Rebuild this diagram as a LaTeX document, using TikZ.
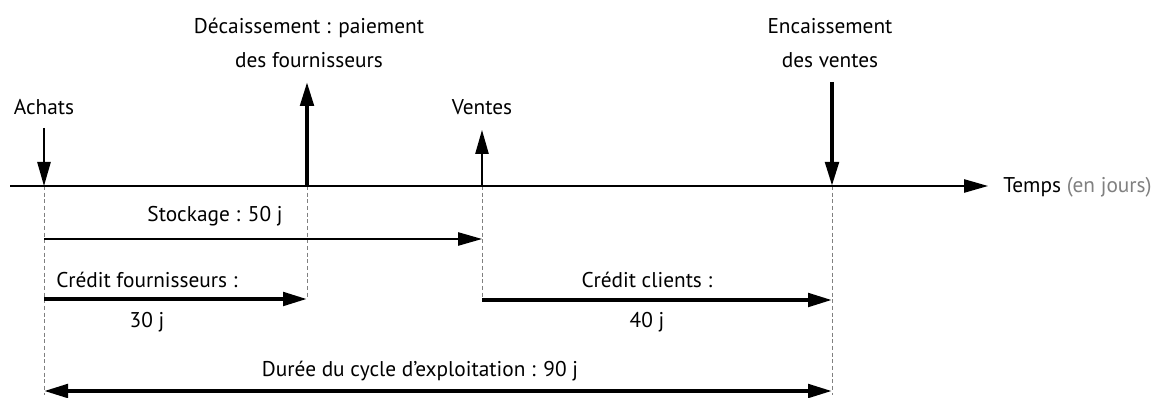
\documentclass[tikz,border=0pt]{standalone}
\usepackage{fontspec}
\setmainfont{PT Sans}
\usetikzlibrary{arrows.meta}
\begin{document}
\begin{tikzpicture}[x=0.75pt,y=-0.75pt,
  lbl/.style={font=\fontsize{16}{25}\selectfont, inner sep=0pt, align=center},
  thinarr/.style={line width=1.1pt, -{Triangle[length=18pt,width=10pt]}},
  thickarr/.style={line width=3pt, -{Triangle[length=18pt,width=10pt]}},
  guide/.style={line width=0.7pt, gray, dash pattern=on 3pt off 2pt},
  axis/.style={line width=1.1pt, -{Triangle[length=18pt,width=10pt]}}]
\useasboundingbox (0,0) rectangle (1172,398);
% coordinates
\coordinate (ax0) at (10,186);
\coordinate (axE) at (988,186);
\coordinate (A) at (44,186);
\coordinate (D) at (307,186);
\coordinate (V) at (482,186);
\coordinate (E) at (832,186);
\coordinate (Atop) at (44,128);
\coordinate (Dtop) at (307,82);
\coordinate (Vtop) at (482,130);
\coordinate (Etop) at (832,82);
\coordinate (Abot) at (44,395);
\coordinate (Dbot) at (307,299);
\coordinate (Vbot) at (482,300);
\coordinate (Ebot) at (832,395);
\coordinate (s0) at (44,239);
\coordinate (s1) at (482,239);
\coordinate (f0) at (44,299);
\coordinate (f1) at (307,299);
\coordinate (c0) at (482,300);
\coordinate (c1) at (832,300);
\coordinate (d0) at (44,391);
\coordinate (d1) at (832,391);
% labels
\node[lbl] (dec) at (309,43) {Décaissement : paiement\\des fournisseurs};
\node[lbl] (enc) at (830,43) {Encaissement\\des ventes};
\node[lbl] (achats) at (44,107) {Achats};
\node[lbl] (ventes) at (482,107) {Ventes};
\node[lbl,anchor=west] (temps) at (1003,187) {Temps \textcolor{gray}{(en jours)}};
\node[lbl] (stock) at (215,216) {Stockage : 50 j};
\node[lbl] (credf) at (147,280) {Crédit fournisseurs :};
\node[lbl] (credf2) at (147,322) {30 j};
\node[lbl] (credc) at (647,280) {Crédit clients :};
\node[lbl] (credc2) at (647,322) {40 j};
\node[lbl] (duree) at (420,371) {Durée du cycle d’exploitation : 90 j};
% guides
\draw[guide] (A) -- (Abot);
\draw[guide] (D) -- (Dbot);
\draw[guide] (V) -- (Vbot);
\draw[guide] (E) -- (Ebot);
% axis
\draw[axis] (ax0) -- (axE);
% event arrows
\draw[thinarr] (Atop) -- (A);
\draw[thickarr] (D) -- (Dtop);
\draw[thinarr] (V) -- (Vtop);
\draw[thickarr] (Etop) -- (E);
% durations
\draw[thinarr] (s0) -- (s1);
\draw[thickarr] (f0) -- (f1);
\draw[thickarr] (c0) -- (c1);
\draw[line width=3pt, {Triangle[length=18pt,width=10pt]}-{Triangle[length=18pt,width=10pt]}] (d0) -- (d1);
\end{tikzpicture}
\end{document}
